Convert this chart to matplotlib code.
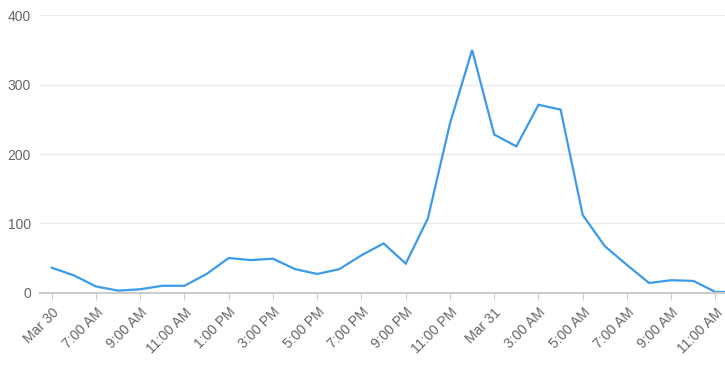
import matplotlib
matplotlib.use("Agg")
import matplotlib.pyplot as plt
import numpy as np

plt.rcParams['font.family'] = ['Liberation Sans', 'DejaVu Sans']

# hours since Mar 30 5:00 AM
hours = list(range(0, 32))
values = [36, 25, 9, 3, 5, 10, 10, 27, 50, 47, 49, 34, 27, 34, 54, 71, 42, 107,
          244, 350, 228, 211, 271, 264, 112, 67, 40, 14, 18, 17, 1, 1]
tick_hours = list(range(0, 31, 2))
tick_labels = ["Mar 30", "7:00 AM", "9:00 AM", "11:00 AM", "1:00 PM", "3:00 PM",
               "5:00 PM", "7:00 PM", "9:00 PM", "11:00 PM", "Mar 31", "3:00 AM",
               "5:00 AM", "7:00 AM", "9:00 AM", "11:00 AM"]
y_ticks = [0, 100, 200, 300, 400]

fig = plt.figure(figsize=(7.25, 3.65), dpi=100)
ax = fig.add_axes([40/725, (365-292.7)/365, 1-40/725, (292.7-15.3)/365])
ax.plot(hours, values, color="#3b9ae9", lw=1.6, solid_joinstyle="miter", clip_on=True)
ax.set_xlim(-0.53, 30.43)
ax.set_ylim(0, 400)
ax.set_yticks(y_ticks)
ax.set_yticklabels([str(v) for v in y_ticks], color="#666666", fontsize=10)
ax.set_xticks(tick_hours)
ax.set_xticklabels(tick_labels, rotation=45, ha="right", va="top",
                   rotation_mode="anchor", color="#666666", fontsize=10)
ax.grid(axis="y", color="#ebebeb", lw=1)
ax.set_axisbelow(True)
for s in ["top", "right", "left"]:
    ax.spines[s].set_visible(False)
ax.spines["bottom"].set_color("#cccccc")
ax.spines["bottom"].set_linewidth(1.5)
ax.tick_params(axis="y", length=0, pad=6.5)
ax.tick_params(axis="x", length=5, color="#cccccc", pad=4)
fig.savefig("out.png", dpi=100, facecolor="white")
